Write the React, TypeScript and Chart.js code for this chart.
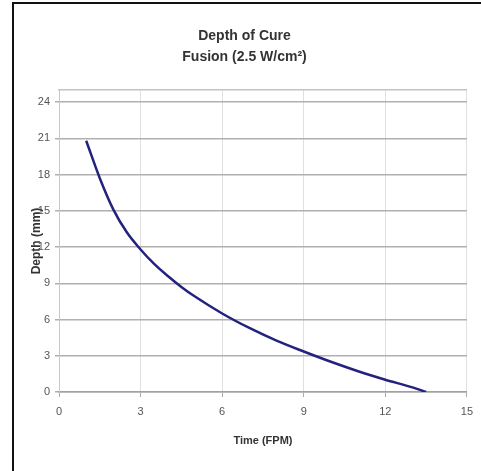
import React, { useEffect, useRef } from "react";
import { Chart, registerables } from "chart.js";

Chart.register(...registerables);

const titleLines = ["Depth of Cure", "Fusion (2.5 W/cm²)"];
const xTitle = "Time (FPM)";
const yTitle = "Depth (mm)";
const timeFPM = [1, 1.5, 2, 2.5, 3, 3.5, 4, 4.5, 5, 6, 7, 8, 9, 10, 11, 12, 13, 13.5];
const depthMM = [20.8, 17.7, 15.1, 13.2, 11.8, 10.6, 9.6, 8.7, 7.9, 6.5, 5.3, 4.25, 3.35, 2.5, 1.72, 1.02, 0.38, 0];
const xMin = 0, xMax = 15, xStep = 3;
const yMin = 0, yMax = 25, yStep = 3;

const FONT = "'Liberation Sans', Arial, sans-serif";

export default function App() {
  const ref = useRef<HTMLCanvasElement | null>(null);
  useEffect(() => {
    if (!ref.current) return;
    const chart = new Chart(ref.current, {
      type: "line",
      data: {
        datasets: [
          {
            data: timeFPM.map((x, i) => ({ x, y: depthMM[i] })),
            borderColor: "#23237e",
            borderWidth: 2.5,
            pointRadius: 0,
            cubicInterpolationMode: "monotone",
            fill: false,
          },
        ],
      },
      options: {
        animation: false,
        responsive: true,
        maintainAspectRatio: false,
        layout: { padding: { left: 20, right: 12, top: 0, bottom: 0 } },
        plugins: {
          legend: { display: false },
          tooltip: { enabled: false },
          title: {
            display: true,
            text: titleLines,
            color: "#333",
            font: { family: FONT, size: 14, weight: "bold", lineHeight: 1.5 },
            padding: { top: 26, bottom: 14 },
          },
        },
        scales: {
          x: {
            type: "linear",
            position: "bottom",
            min: xMin,
            max: xMax,
            ticks: { stepSize: xStep, color: "#555", font: { family: FONT, size: 11 }, padding: 8 },
            grid: { color: "#e0e0e0", lineWidth: 1, tickLength: 5, tickColor: "#aaa" },
            border: { color: "#a0a0a0", width: 1.5 },
            title: {
              display: true,
              text: xTitle,
              color: "#333",
              font: { family: FONT, size: 11, weight: "bold", lineHeight: 1.2 },
              padding: { top: 0, bottom: 23 },
            },
            afterFit: (s: any) => { s.height = 79; },
          },
          xTop: {
            type: "linear",
            position: "top",
            min: xMin,
            max: xMax,
            ticks: { display: false },
            grid: { display: false },
            border: { color: "#c4c4c4", width: 1.5 },
          },
          y: {
            min: yMin,
            max: yMax,
            ticks: { stepSize: yStep, includeBounds: false, color: "#555", font: { family: FONT, size: 11 }, padding: 5 },
            grid: { color: "#b0b0b0", lineWidth: 1.5, tickLength: 4, tickColor: "#b0b0b0" },
            border: { color: "#c8c8c8", width: 1 },
            title: {
              display: true,
              text: yTitle,
              color: "#333",
              font: { family: FONT, size: 12, weight: "bold", lineHeight: 1.2 },
              padding: { top: 9, bottom: 0 },
            },
            afterFit: (s: any) => { s.width = 39; },
          },
        },
      },
    } as any);
    return () => chart.destroy();
  }, []);

  return (
    <div style={{ position: "absolute", left: 0, top: 0, width: 481, height: 471, background: "#fff", overflow: "hidden" }}>
      <div
        style={{
          position: "absolute",
          left: 12,
          top: 2,
          right: -10,
          bottom: -10,
          borderTop: "2px solid #111",
          borderLeft: "2px solid #111",
        }}
      />
      <div style={{ position: "absolute", left: 0, top: 0, width: 481, height: 471 }}>
        <canvas ref={ref} />
      </div>
    </div>
  );
}
